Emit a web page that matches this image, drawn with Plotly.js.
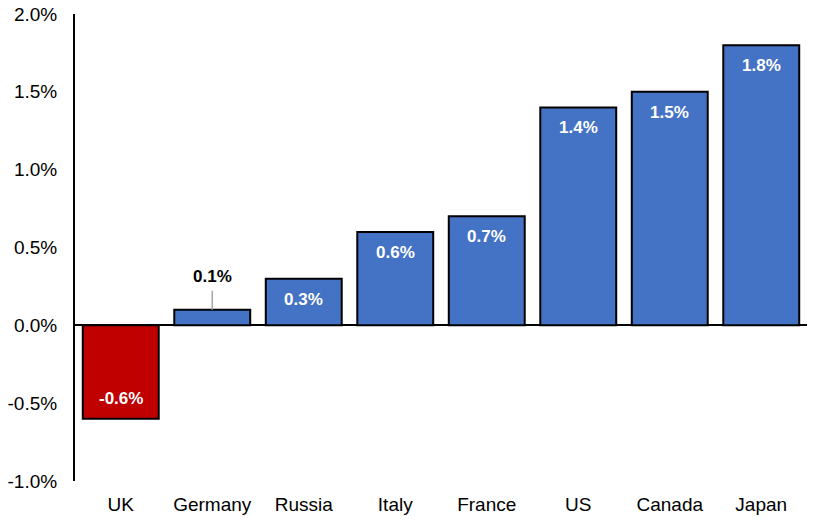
<!DOCTYPE html>
<html>
<head>
<meta charset="utf-8">
<script src="https://cdn.plot.ly/plotly-3.0.1.min.js"></script>
<style>
  html, body { margin: 0; padding: 0; background: #fff; }
  #chart { width: 822px; height: 520px; }
</style>
</head>
<body>
<div id="chart"></div>
<script>
const countries = ["UK", "Germany", "Russia", "Italy", "France", "US", "Canada", "Japan"];
const growth = [-0.6, 0.1, 0.3, 0.6, 0.7, 1.4, 1.5, 1.8];
const yTicks = [-1.0, -0.5, 0.0, 0.5, 1.0, 1.5, 2.0];

const BLUE = "#4472C4";
const RED = "#C00000";
const FONT = "Liberation Sans, Arial, sans-serif";

const barColors = growth.map(v => (v < 0 ? RED : BLUE));

const data = [{
  type: "bar",
  x: countries,
  y: growth,
  marker: {
    color: barColors,
    line: { color: "#000", width: 2 },
  },
  hoverinfo: "x+y",
}];

// labels: inside bar ends, except the small Germany bar which gets a leader line
const annotations = countries.map((c, i) => {
  const v = growth[i];
  const txt = v.toFixed(1) + "%";
  if (c === "Germany") {
    return {
      x: c, y: v, xref: "x", yref: "y",
      text: "<b>" + txt + "</b>",
      showarrow: true, arrowhead: 0, arrowwidth: 1.5, arrowcolor: "#a6a6a6",
      ax: 0, ay: -33, standoff: 0, startstandoff: 3,
      font: { family: FONT, size: 17, color: "#000" },
    };
  }
  return {
    x: c, y: v, xref: "x", yref: "y",
    text: "<b>" + txt + "</b>",
    showarrow: false,
    yanchor: v < 0 ? "bottom" : "top",
    yshift: v < 0 ? 9 : -9,
    font: { family: FONT, size: 17, color: "#fff" },
  };
});

const layout = {
  width: 822,
  height: 520,
  margin: { l: 75, r: 15, t: 14, b: 39 },
  paper_bgcolor: "#fff",
  plot_bgcolor: "#fff",
  font: { family: FONT, size: 19, color: "#000" },
  bargap: 0.17,
  showlegend: false,
  xaxis: {
    showgrid: false,
    showline: false,
    zeroline: false,
    ticks: "",
    ticklabelstandoff: 10,
    tickfont: { family: FONT, size: 19, color: "#000" },
    fixedrange: true,
  },
  yaxis: {
    range: [-1.0, 2.0],
    tickmode: "array",
    tickvals: yTicks,
    ticktext: yTicks.map(v => v.toFixed(1) + "%"),
    showgrid: false,
    showline: true,
    linecolor: "#000",
    linewidth: 2,
    zeroline: true,
    zerolinecolor: "#000",
    zerolinewidth: 2,
    ticks: "",
    ticklabelstandoff: 12,
    tickfont: { family: FONT, size: 19, color: "#000" },
    fixedrange: true,
  },
  annotations: annotations,
};

Plotly.newPlot("chart", data, layout, { displayModeBar: false, staticPlot: true });
</script>
</body>
</html>
